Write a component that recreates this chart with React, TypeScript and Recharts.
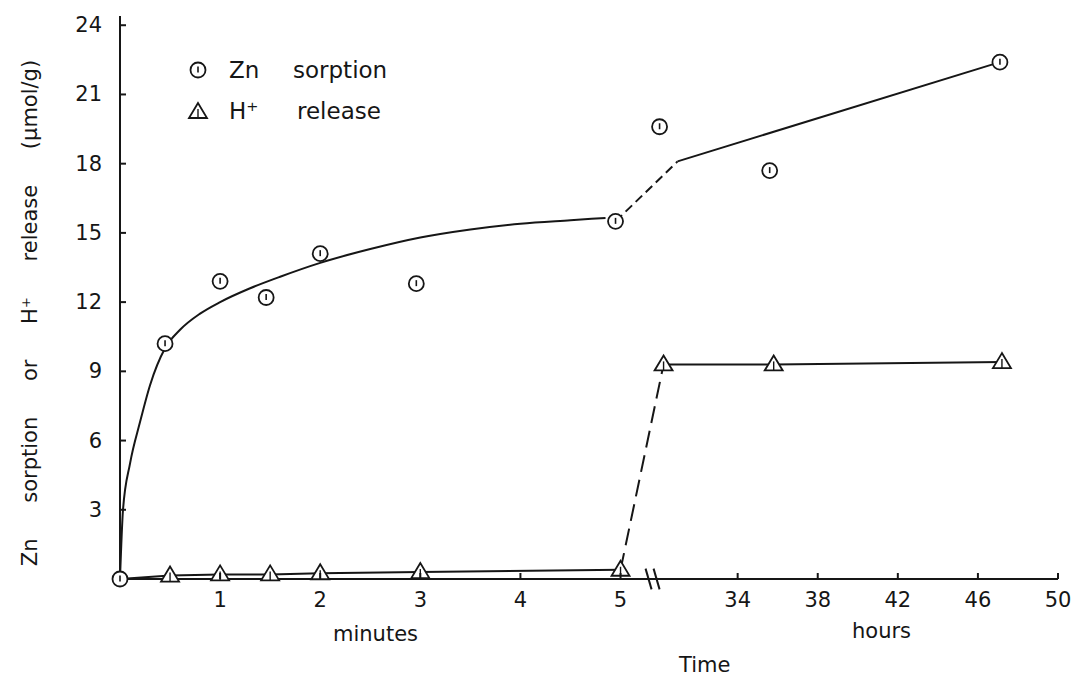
import React from "react";

import { ComposedChart, Legend, Line, ReferenceLine, Scatter, XAxis, YAxis } from "recharts";


const INK = "#161616";
const FONT = "'DejaVu Sans', sans-serif";

// measured points, time axis is broken: minutes 0-5, then hours
const znMinutes = [0, 0.45, 1, 1.46, 2, 2.96, 4.95];
const znMinuteValues = [0, 10.2, 12.9, 12.2, 14.1, 12.8, 15.5];
const znHours = [30.1, 35.6, 47.1];
const znHourValues = [19.6, 17.7, 22.4];

const hMinutes = [0.5, 1, 1.5, 2, 3, 5];
const hMinuteValues = [0.15, 0.2, 0.2, 0.25, 0.3, 0.4];
const hHours = [30.3, 35.8, 47.2];
const hHourValues = [9.3, 9.3, 9.4];

// hand drawn fit through the Zn points (minutes part)
const znFitMinutes = [0, 0.03, 0.1, 0.2, 0.3, 0.45, 0.6, 0.8, 1.0, 1.3, 1.6, 2.0, 2.5, 3.0, 3.5, 4.0, 4.5, 4.85];
const znFitValues = [0, 3.0, 5.0, 6.8, 8.4, 10.0, 10.8, 11.5, 12.0, 12.6, 13.1, 13.7, 14.3, 14.8, 15.15, 15.4, 15.55, 15.65];
// dashed bridge and solid fit in the hours part
const znBridge = { minute: 4.95, from: 15.5, hour: 31, to: 18.1 };
const znFitHours = [31, 47.1];
const znFitHourValues = [18.1, 22.4];
const hBridge = { minute: 5, from: 0.4, hour: 30.3, to: 9.3 };

const minuteTicks = [1, 2, 3, 4, 5];
const hourTicks = [34, 38, 42, 46, 50];
const yTicks = [3, 6, 9, 12, 15, 18, 21, 24];

// axis break mapping: one hour takes 0.2 of a minute's width, hours start at 28.15 h
const HOUR_ORIGIN = 28.15;
const HOUR_SCALE = 0.2;
const fromMinutes = (m: number) => m;
const fromHours = (h: number) => 5 + (h - HOUR_ORIGIN) * HOUR_SCALE;
const BREAK_POS = [5.28, 5.36];

const rows = (xs: number[], vs: number[], conv: (n: number) => number) =>
  xs.map((x, i) => ({ p: conv(x), v: vs[i] }));

const znPoints = [...rows(znMinutes, znMinuteValues, fromMinutes), ...rows(znHours, znHourValues, fromHours)];
const hPoints = [...rows(hMinutes, hMinuteValues, fromMinutes), ...rows(hHours, hHourValues, fromHours)];
const znFit = rows(znFitMinutes, znFitValues, fromMinutes);
const znFitLate = rows(znFitHours, znFitHourValues, fromHours);
const znDash = [
  { p: fromMinutes(znBridge.minute), v: znBridge.from },
  { p: fromHours(znBridge.hour), v: znBridge.to }
];
const hEarly = [{ p: 0, v: 0 }, ...rows(hMinutes, hMinuteValues, fromMinutes)];
const hDash = [
  { p: fromMinutes(hBridge.minute), v: hBridge.from },
  { p: fromHours(hBridge.hour), v: hBridge.to }
];
const hLate = rows(hHours, hHourValues, fromHours);

const xTickPositions = [...minuteTicks.map(fromMinutes), ...hourTicks.map(fromHours)];
const xTickLabel = (p: number) => {
  const i = xTickPositions.findIndex((t) => Math.abs(t - p) < 1e-6);
  return i < minuteTicks.length ? String(minuteTicks[i]) : String(hourTicks[i - minuteTicks.length]);
};


const ZnMark = (props: any) => {
  const { cx, cy } = props;
  return (
    <g>
      <circle cx={cx} cy={cy} r={7.5} fill="#fff" stroke={INK} strokeWidth={1.8} />
      <line x1={cx} x2={cx} y1={cy - 3.5} y2={cy + 2.5} stroke={INK} strokeWidth={1.6} />
    </g>
  );
};

const HMark = (props: any) => {
  const { cx, cy } = props;
  return (
    <g>
      <polygon
        points={`${cx},${cy - 9} ${cx - 9},${cy + 6} ${cx + 9},${cy + 6}`}
        fill="#fff"
        stroke={INK}
        strokeWidth={1.8}
      />
      <line x1={cx} x2={cx} y1={cy - 3} y2={cy + 6} stroke={INK} strokeWidth={1.4} />
    </g>
  );
};

const YTick = (props: any) => {
  const { x, y, payload } = props;
  return (
    <g>
      <line x1={x + 18} x2={x + 24} y1={y} y2={y} stroke={INK} strokeWidth={2} />
      <text x={x} y={y} dy={7} textAnchor="end" fill={INK} fontSize={21} fontFamily={FONT}>
        {payload.value}
      </text>
    </g>
  );
};

const XTick = (props: any) => {
  const { x, y, payload } = props;
  return (
    <g>
      <line x1={x} x2={x} y1={y - 12} y2={y - 18} stroke={INK} strokeWidth={2} />
      <text x={x} y={y} dy={16} textAnchor="middle" fill={INK} fontSize={21} fontFamily={FONT}>
        {xTickLabel(payload.value)}
      </text>
    </g>
  );
};

const legendRows = [
  { mark: <ZnMark cx={12} cy={12} />, head: "Zn", tail: "sorption", tailAt: 107 },
  { mark: <HMark cx={12} cy={13} />, head: "H⁺", tail: "release", tailAt: 111 }
];

const LegendBox = () => (
  <div style={{ position: "relative", width: 260, height: 82, fontFamily: FONT, fontSize: 23, color: INK }}>
    {legendRows.map((r, i) => (
      <div key={r.head} style={{ position: "absolute", left: 0, top: i * 41, height: 41, width: 260 }}>
        <svg width={24} height={24} style={{ position: "absolute", left: 0, top: 8 }}>{r.mark}</svg>
        <span style={{ position: "absolute", left: 43, top: 6, lineHeight: "28px" }}>{r.head}</span>
        <span style={{ position: "absolute", left: r.tailAt, top: 6, lineHeight: "28px" }}>{r.tail}</span>
      </div>
    ))}
  </div>
);


const App: React.FC = () => {
  const label = { position: "absolute" as const, fontFamily: FONT, fontSize: 21, color: INK };
  return (
    <div style={{ position: "absolute", left: 0, top: 0, width: 1075, height: 679, background: "#fff" }}>
      <ComposedChart width={1075} height={679} margin={{ top: 16, right: 17, bottom: 70, left: 60 }}>
        <XAxis
          type="number"
          dataKey="p"
          domain={[0, 9.37]}
          ticks={xTickPositions}
          interval={0}
          height={30}
          tickSize={0}
          tickMargin={12}
          tick={<XTick />}
          axisLine={{ stroke: INK, strokeWidth: 2 }}
          tickLine={false}
        />
        <YAxis
          type="number"
          dataKey="v"
          domain={[0, 24.4]}
          ticks={yTicks}
          interval={0}
          width={60}
          tickSize={0}
          tickMargin={18}
          tick={<YTick />}
          axisLine={{ stroke: INK, strokeWidth: 2 }}
          tickLine={false}
        />
        <Legend
          verticalAlign="middle"
          align="center"
          layout="vertical"
          content={<LegendBox />}
          wrapperStyle={{ top: 50, left: 186, width: 260 }}
        />
        {BREAK_POS.map((b) => (
          <ReferenceLine
            key={b}
            segment={[{ x: b - 0.03, y: 0.45 }, { x: b + 0.03, y: -0.45 }]}
            stroke={INK}
            strokeWidth={2}
            ifOverflow="visible"
          />
        ))}
        <Line data={znFit} dataKey="v" type="monotone" stroke={INK} strokeWidth={2} dot={false} isAnimationActive={false} legendType="none" />
        <Line data={znDash} dataKey="v" type="linear" stroke={INK} strokeWidth={2} strokeDasharray="9 5" dot={false} isAnimationActive={false} legendType="none" />
        <Line data={znFitLate} dataKey="v" type="linear" stroke={INK} strokeWidth={2} dot={false} isAnimationActive={false} legendType="none" />
        <Line data={hEarly} dataKey="v" type="linear" stroke={INK} strokeWidth={2} dot={false} isAnimationActive={false} legendType="none" />
        <Line data={hDash} dataKey="v" type="linear" stroke={INK} strokeWidth={2} strokeDasharray="17 8" dot={false} isAnimationActive={false} legendType="none" />
        <Line data={hLate} dataKey="v" type="linear" stroke={INK} strokeWidth={2} dot={false} isAnimationActive={false} legendType="none" />
        <Scatter name="Zn sorption" data={znPoints} dataKey="v" shape={<ZnMark />} isAnimationActive={false} />
        <Scatter name="H⁺ release" data={hPoints} dataKey="v" shape={<HMark />} isAnimationActive={false} />
      </ComposedChart>
      <div
        style={{
          ...label,
          left: 30,
          top: 313,
          whiteSpace: "nowrap",
          wordSpacing: 29,
          transform: "translate(-50%, -50%) rotate(-90deg)"
        }}
      >
        Zn sorption or H⁺ release (µmol/g)
      </div>
      <div style={{ ...label, left: 333, top: 622 }}>minutes</div>
      <div style={{ ...label, left: 852, top: 619 }}>hours</div>
      <div style={{ ...label, left: 679, top: 653 }}>Time</div>
    </div>
  );
};

export default App;
